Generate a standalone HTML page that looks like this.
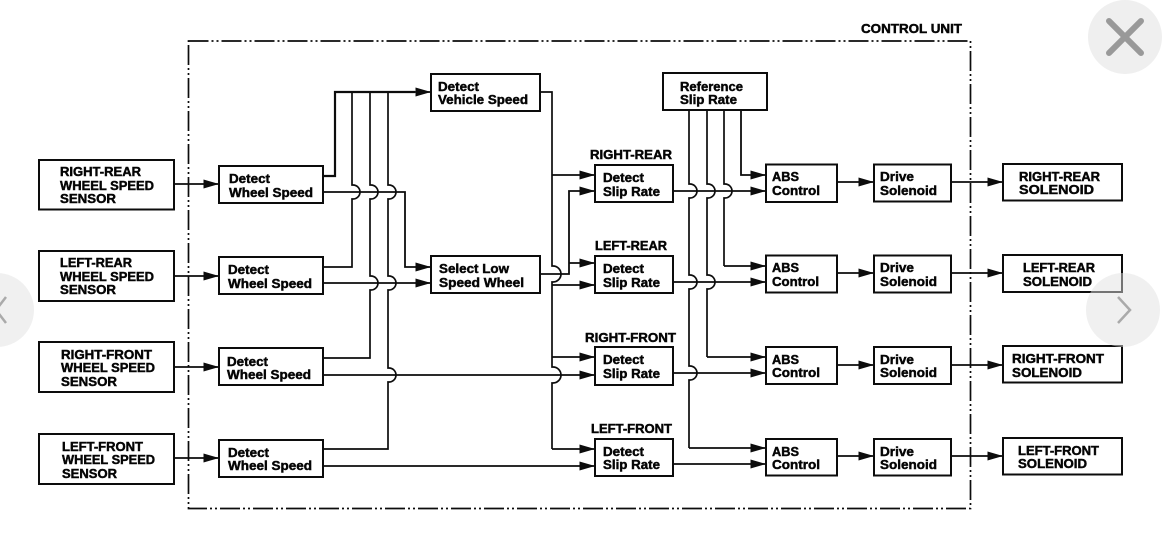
<!DOCTYPE html>
<html lang="en"><head><meta charset="utf-8"><title>ABS Control Unit</title>
<style>
html,body{margin:0;padding:0;background:#fff;width:1162px;height:537px;overflow:hidden}
svg{display:block}
text{font-family:"Liberation Sans",sans-serif;font-weight:700;font-size:12.5px;fill:#050505;stroke:#050505;stroke-width:.45}
.b{fill:#fff;stroke:#0c0c0c;stroke-width:2}
.l{fill:none;stroke:#0c0c0c;stroke-width:1.7}
.t{fill:none;stroke:#0c0c0c;stroke-width:2.200}
.a{fill:none;stroke:#0c0c0c;stroke-width:1.8;marker-end:url(#ah)}
</style></head><body>
<svg xmlns="http://www.w3.org/2000/svg" width="1162" height="537" viewBox="0 0 1162 537">
<defs><marker id="ah" markerUnits="userSpaceOnUse" markerWidth="17" markerHeight="11" refX="15.500" refY="5" orient="auto"><path d="M0,.5 L15.500,5 L0,9.500 Z" fill="#0c0c0c"/></marker></defs>

<rect x="188.500" y="41" width="782" height="467.500" fill="none" stroke="#0c0c0c" stroke-width="1.7" stroke-dasharray="20 3 2 3 2 3"/>

<!-- Left connectors -->
<path class="a" d="M174 184H219"/><path class="a" d="M174 276H219"/><path class="a" d="M174 367H219"/><path class="a" d="M174 458H219"/>

<!-- Wheel speed upper outputs -->
<path class="t" d="M323 176H335V92H415"/><path class="a" d="M410 92H431"/>
<path class="l" d="M323 267H352V199h1a7 7 0 0 0 0-14h-1V92"/>
<path class="l" d="M323 358H370V290h1a7 7 0 0 0 0-14h-1V199h1a7 7 0 0 0 0-14h-1V92"/>
<path class="l" d="M323 449H388V382h1a7 7 0 0 0 0-14h-1V290h1a7 7 0 0 0 0-14h-1V199h1a7 7 0 0 0 0-14h-1V92"/>

<!-- Wheel speed lower outputs -->
<path class="a" d="M323 192H405V267H431"/>
<path class="a" d="M323 283H431"/>
<path class="a" d="M323 375H595"/>
<path class="a" d="M323 466H595"/>

<!-- Vehicle speed bus -->
<path class="l" d="M540 92H552V266h1a8 8 0 0 1 0 16h-1V367h1a8 8 0 0 1 0 16h-1V449"/>
<path class="a" d="M552 175H595"/><path class="a" d="M552 285H595"/><path class="a" d="M552 357H595"/><path class="a" d="M552 449H595"/>

<!-- Low-speed output -->
<path class="a" d="M540 274H569V191H595"/>
<path class="a" d="M569 263H595"/>

<!-- Reference slip rate -->
<path class="l" d="M689 110V184h1a7 7 0 0 1 0 14h-1V275h1a7 7 0 0 1 0 14h-1V366h1a7 7 0 0 1 0 14h-1V448"/>
<path class="a" d="M689 448H766"/>
<path class="l" d="M707 110V184h1a7 7 0 0 1 0 14h-1V275h1a7 7 0 0 1 0 14h-1V357"/>
<path class="a" d="M707 357H766"/>
<path class="l" d="M724 110V184h1a7 7 0 0 1 0 14h-1V266"/>
<path class="a" d="M724 266H766"/>
<path class="a" d="M741 110V175H766"/>

<!-- Slip outputs -->
<path class="a" d="M673 191H766"/><path class="a" d="M673 282H766"/><path class="a" d="M673 373H766"/><path class="a" d="M673 464H766"/>

<!-- ABS to drive to solenoid -->
<path class="a" d="M837 182H874"/><path class="a" d="M837 273H874"/><path class="a" d="M837 365H874"/><path class="a" d="M837 456H874"/>
<path class="a" d="M951 182H1003"/><path class="a" d="M951 273H1003"/><path class="a" d="M951 365H1003"/><path class="a" d="M951 456H1003"/>

<!-- Boxes -->
<rect class="b" x="39" y="160" width="135" height="49.500"/><rect class="b" x="39" y="251" width="135" height="50"/><rect class="b" x="39" y="342" width="135" height="50"/><rect class="b" x="39" y="434" width="135" height="50"/>
<rect class="b" x="219" y="166" width="104" height="37"/><rect class="b" x="219" y="257" width="104" height="37"/><rect class="b" x="219" y="348" width="104" height="37"/><rect class="b" x="219" y="440" width="104" height="37"/>
<rect class="b" x="431" y="74" width="109" height="37"/><rect class="b" x="431" y="256" width="109" height="37"/>
<rect class="b" x="663" y="73" width="104" height="37"/>
<rect class="b" x="595" y="165" width="78" height="37"/><rect class="b" x="595" y="256" width="78" height="37"/><rect class="b" x="595" y="347" width="78" height="38"/><rect class="b" x="595" y="439" width="78" height="37"/>
<rect class="b" x="766" y="164.500" width="71" height="37.500"/><rect class="b" x="766" y="255.500" width="71" height="37"/><rect class="b" x="766" y="347" width="71" height="37"/><rect class="b" x="766" y="439" width="71" height="36.500"/>
<rect class="b" x="874" y="164.500" width="77" height="37"/><rect class="b" x="874" y="255.500" width="77" height="37"/><rect class="b" x="874" y="347" width="77" height="37"/><rect class="b" x="874" y="439" width="77" height="36.500"/>
<rect class="b" x="1003" y="164" width="119" height="36.500"/><rect class="b" x="1003" y="255" width="119" height="37"/><rect class="b" x="1003" y="346" width="119" height="36.500"/><rect class="b" x="1003" y="438" width="119" height="36.500"/>

<!-- Text -->
<g>
<text x="861" y="33" textLength="101" lengthAdjust="spacingAndGlyphs">CONTROL UNIT</text>

<text x="60" y="176" textLength="81" lengthAdjust="spacingAndGlyphs">RIGHT-REAR</text><text x="60" y="190" textLength="94" lengthAdjust="spacingAndGlyphs">WHEEL SPEED</text><text x="60" y="203" textLength="56" lengthAdjust="spacingAndGlyphs">SENSOR</text>
<text x="60" y="267" textLength="72" lengthAdjust="spacingAndGlyphs">LEFT-REAR</text><text x="60" y="281" textLength="94" lengthAdjust="spacingAndGlyphs">WHEEL SPEED</text><text x="60" y="294" textLength="56" lengthAdjust="spacingAndGlyphs">SENSOR</text>
<text x="61" y="359" textLength="91" lengthAdjust="spacingAndGlyphs">RIGHT-FRONT</text><text x="61" y="372" textLength="94" lengthAdjust="spacingAndGlyphs">WHEEL SPEED</text><text x="61" y="386" textLength="56" lengthAdjust="spacingAndGlyphs">SENSOR</text>
<text x="62" y="451" textLength="81" lengthAdjust="spacingAndGlyphs">LEFT-FRONT</text><text x="62" y="464" textLength="93" lengthAdjust="spacingAndGlyphs">WHEEL SPEED</text><text x="62" y="478" textLength="55" lengthAdjust="spacingAndGlyphs">SENSOR</text>

<text x="229" y="183" textLength="41" lengthAdjust="spacingAndGlyphs">Detect</text><text x="229" y="197" textLength="84" lengthAdjust="spacingAndGlyphs">Wheel Speed</text>
<text x="228" y="274" textLength="41" lengthAdjust="spacingAndGlyphs">Detect</text><text x="228" y="288" textLength="84" lengthAdjust="spacingAndGlyphs">Wheel Speed</text>
<text x="227" y="366" textLength="41" lengthAdjust="spacingAndGlyphs">Detect</text><text x="227" y="379" textLength="84" lengthAdjust="spacingAndGlyphs">Wheel Speed</text>
<text x="228" y="457" textLength="41" lengthAdjust="spacingAndGlyphs">Detect</text><text x="228" y="470" textLength="84" lengthAdjust="spacingAndGlyphs">Wheel Speed</text>

<text x="438" y="91" textLength="41" lengthAdjust="spacingAndGlyphs">Detect</text><text x="438" y="104" textLength="90" lengthAdjust="spacingAndGlyphs">Vehicle Speed</text>
<text x="439" y="273" textLength="70" lengthAdjust="spacingAndGlyphs">Select Low</text><text x="439" y="287" textLength="85" lengthAdjust="spacingAndGlyphs">Speed Wheel</text>
<text x="680" y="91" textLength="63" lengthAdjust="spacingAndGlyphs">Reference</text><text x="680" y="104" textLength="57" lengthAdjust="spacingAndGlyphs">Slip Rate</text>

<text x="590" y="159" textLength="82" lengthAdjust="spacingAndGlyphs">RIGHT-REAR</text>
<text x="595" y="250" textLength="72" lengthAdjust="spacingAndGlyphs">LEFT-REAR</text>
<text x="585" y="342" textLength="91" lengthAdjust="spacingAndGlyphs">RIGHT-FRONT</text>
<text x="591" y="433" textLength="81" lengthAdjust="spacingAndGlyphs">LEFT-FRONT</text>

<text x="603" y="182" textLength="41" lengthAdjust="spacingAndGlyphs">Detect</text><text x="603" y="196" textLength="57" lengthAdjust="spacingAndGlyphs">Slip Rate</text>
<text x="603" y="273" textLength="41" lengthAdjust="spacingAndGlyphs">Detect</text><text x="603" y="287" textLength="57" lengthAdjust="spacingAndGlyphs">Slip Rate</text>
<text x="603" y="364" textLength="41" lengthAdjust="spacingAndGlyphs">Detect</text><text x="603" y="378" textLength="57" lengthAdjust="spacingAndGlyphs">Slip Rate</text>
<text x="603" y="456" textLength="41" lengthAdjust="spacingAndGlyphs">Detect</text><text x="603" y="469" textLength="57" lengthAdjust="spacingAndGlyphs">Slip Rate</text>

<text x="772" y="181" textLength="27" lengthAdjust="spacingAndGlyphs">ABS</text><text x="772" y="195" textLength="48" lengthAdjust="spacingAndGlyphs">Control</text>
<text x="772" y="272" textLength="27" lengthAdjust="spacingAndGlyphs">ABS</text><text x="772" y="286" textLength="47" lengthAdjust="spacingAndGlyphs">Control</text>
<text x="772" y="364" textLength="27" lengthAdjust="spacingAndGlyphs">ABS</text><text x="772" y="377" textLength="48" lengthAdjust="spacingAndGlyphs">Control</text>
<text x="772" y="456" textLength="27" lengthAdjust="spacingAndGlyphs">ABS</text><text x="772" y="469" textLength="48" lengthAdjust="spacingAndGlyphs">Control</text>

<text x="880" y="181" textLength="34" lengthAdjust="spacingAndGlyphs">Drive</text><text x="880" y="195" textLength="57" lengthAdjust="spacingAndGlyphs">Solenoid</text>
<text x="880" y="272" textLength="34" lengthAdjust="spacingAndGlyphs">Drive</text><text x="880" y="286" textLength="57" lengthAdjust="spacingAndGlyphs">Solenoid</text>
<text x="880" y="364" textLength="34" lengthAdjust="spacingAndGlyphs">Drive</text><text x="880" y="377" textLength="57" lengthAdjust="spacingAndGlyphs">Solenoid</text>
<text x="880" y="456" textLength="34" lengthAdjust="spacingAndGlyphs">Drive</text><text x="880" y="469" textLength="57" lengthAdjust="spacingAndGlyphs">Solenoid</text>

<text x="1019" y="181" textLength="81" lengthAdjust="spacingAndGlyphs">RIGHT-REAR</text><text x="1019" y="194" textLength="75" lengthAdjust="spacingAndGlyphs">SOLENOID</text>
<text x="1023" y="272" textLength="72" lengthAdjust="spacingAndGlyphs">LEFT-REAR</text><text x="1023" y="286" textLength="69" lengthAdjust="spacingAndGlyphs">SOLENOID</text>
<text x="1012" y="363" textLength="92" lengthAdjust="spacingAndGlyphs">RIGHT-FRONT</text><text x="1012" y="377" textLength="70" lengthAdjust="spacingAndGlyphs">SOLENOID</text>
<text x="1018" y="455" textLength="81" lengthAdjust="spacingAndGlyphs">LEFT-FRONT</text><text x="1018" y="468" textLength="69" lengthAdjust="spacingAndGlyphs">SOLENOID</text>
</g>

<!-- Viewer overlay controls -->
<circle cx="1125" cy="37" r="37" fill="#efefef"/>
<path d="M1109 21L1141 53M1141 21L1109 53" stroke="#999" stroke-width="6" stroke-linecap="round" fill="none"/>
<circle cx="1123" cy="310" r="37" fill="rgba(224,224,224,.49)"/>
<path d="M1118 297L1130 310L1118 323" stroke="#aaa" stroke-width="2.500" fill="none"/>
<circle cx="-3" cy="310" r="37" fill="rgba(224,224,224,.49)"/>
<path d="M6 297L-4 310L6 323" stroke="#aaa" stroke-width="2.500" fill="none"/>
</svg>
</body></html>
